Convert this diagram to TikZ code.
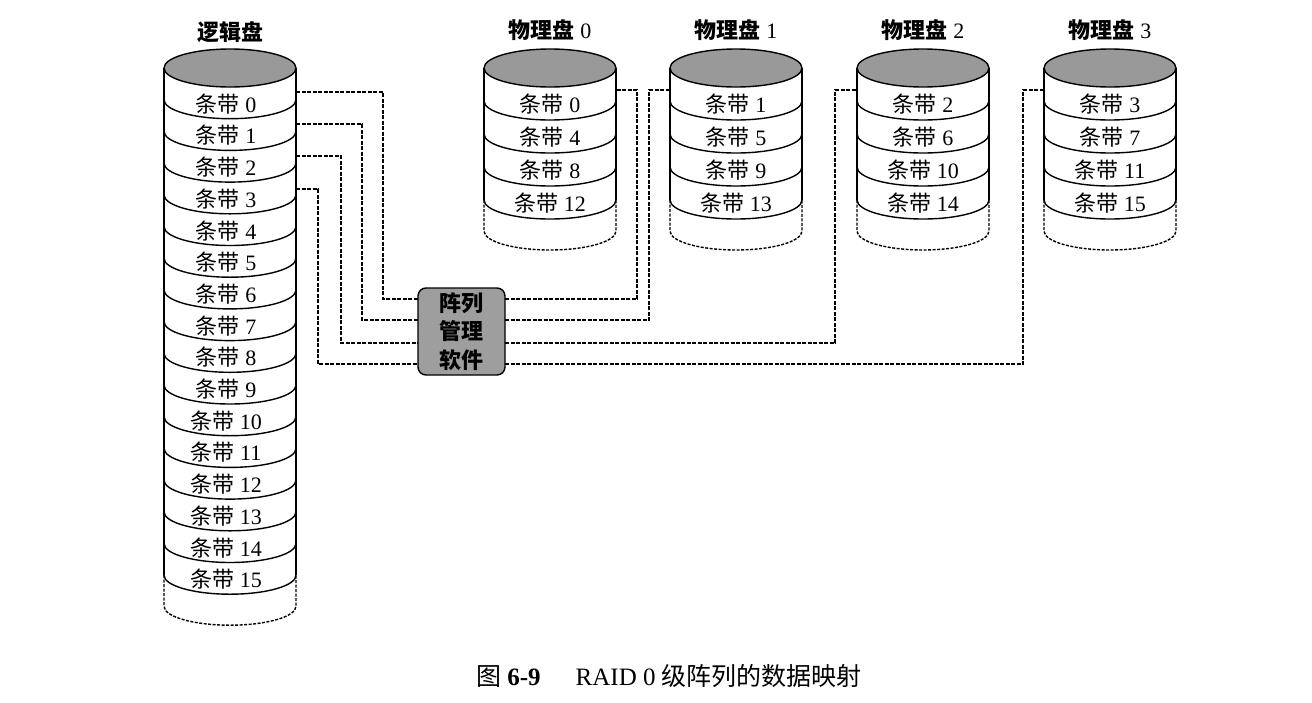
\documentclass[tikz,border=0pt]{standalone}
\usepackage{fontspec}
\setmainfont{Liberation Serif}
\newfontfamily\cjk{Noto Sans CJK SC}
\newcommand\drawcyl[3]{% #1 centre x, #2 number of stripes, #3 stripe height
  \pgfmathsetmacro\ysd{68+#2*#3}%
  \pgfmathsetmacro\ybt{\ysd+31}%
  \draw[disk, fill=black!40] (#1,-68) ellipse [x radius=66, y radius=19];
  \draw[disk] (#1-66,-68) -- (#1-66,-\ysd);
  \draw[disk] (#1+66,-68) -- (#1+66,-\ysd);
  \foreach \k in {1,...,#2} {
    \draw[disk] ({#1-66},{-68-\k*#3}) arc[start angle=180, end angle=360, x radius=66, y radius=19];
  }
  \draw[btm] (#1-66,-\ysd) -- (#1-66,-\ybt) arc[start angle=180, end angle=360, x radius=66, y radius=19] -- (#1+66,-\ysd);
}
\begin{document}
\begin{tikzpicture}[x=1pt,y=1pt,
  disk/.style={line width=1.4pt},
  btm/.style={line width=1.4pt, dash pattern=on 3pt off 1.5pt},
  lbl/.style={font=\fontsize{22}{24}\selectfont, inner sep=0pt},
  ttl/.style={font=\fontsize{22}{24}\selectfont, inner sep=0pt},
  conn/.style={line width=1.3pt, dash pattern=on 4pt off 1.5pt},
  amsbox/.style={draw, line width=1.4pt, fill=black!38, rounded corners=8pt,
    minimum width=87pt, minimum height=87pt, align=center,
    font=\fontsize{22}{28.5}\selectfont\cjk\bfseries, inner sep=0pt}
]
\useasboundingbox (0,0) rectangle (1312,-702);

% logical disk
\drawcyl{230}{16}{31.7}
\node[ttl] (tl) at (230,-32) {\cjk\bfseries 逻辑盘};
\foreach \i in {0,...,15} {
  \node[lbl] (ls\i) at (226,{-(88+31.7*(\i+0.5))}) {{\cjk 条带} \i};
}

% physical disks
\foreach \d/\cx in {0/550,1/736,2/923,3/1110} {
  \drawcyl{\cx}{4}{33}
  \node[ttl] (tp\d) at (\cx,-30) {{\cjk\bfseries 物理盘} \d};
  \foreach \r in {0,...,3} {
    \pgfmathtruncatemacro\sn{\d+4*\r}
    \node[lbl] (p\d s\r) at (\cx,{-(88+33*(\r+0.5))}) {{\cjk 条带} \sn};
  }
}

% array management software
\node[amsbox] (ams) at (461.5,-331.5) {阵列\\管理\\软件};

% connector end points
\coordinate (L0) at (296,-92);
\coordinate (L1) at (296,-124);
\coordinate (L2) at (296,-156);
\coordinate (L3) at (296,-189);
\coordinate (bw0) at (418,-299);
\coordinate (bw1) at (418,-320);
\coordinate (bw2) at (418,-343);
\coordinate (bw3) at (418,-364);
\coordinate (be0) at (505,-299);
\coordinate (be1) at (505,-320);
\coordinate (be2) at (505,-343);
\coordinate (be3) at (505,-364);
\coordinate (P0) at (616,-90);
\coordinate (P1) at (670,-90);
\coordinate (P2) at (857,-90);
\coordinate (P3) at (1044,-90);

\draw[conn] (L0) -| ([xshift=-35pt]bw0) -- (bw0);
\draw[conn] (L1) -| ([xshift=-56pt]bw1) -- (bw1);
\draw[conn] (L2) -| ([xshift=-77pt]bw2) -- (bw2);
\draw[conn] (L3) -| ([xshift=-100pt]bw3) -- (bw3);

\draw[conn] (be0) -| ([xshift=21pt]P0) -- (P0);
\draw[conn] (be1) -| ([xshift=-21pt]P1) -- (P1);
\draw[conn] (be2) -| ([xshift=-22pt]P2) -- (P2);
\draw[conn] (be3) -| ([xshift=-21pt]P3) -- (P3);

% caption
\node[font=\fontsize{25}{28}\selectfont, inner sep=0pt] (cap) at (669,-676)
  {{\cjk 图} \textbf{6-9}\hspace{1.4em}RAID 0 {\cjk 级阵列的数据映射}};
\end{tikzpicture}
\end{document}
